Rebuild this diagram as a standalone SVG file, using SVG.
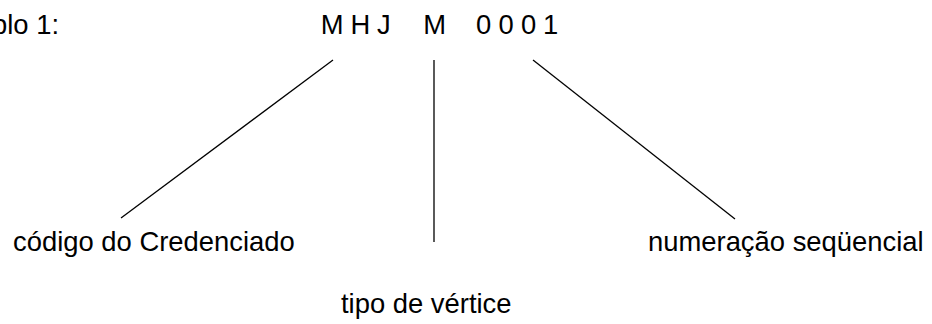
<svg xmlns="http://www.w3.org/2000/svg" width="932" height="324" viewBox="0 0 932 324">
<style>
text{font-family:"Liberation Sans",Arial,sans-serif;font-size:27.4px;fill:#000}
.c{stroke:#000;stroke-width:1.3;fill:none}
</style>
<rect width="932" height="324" fill="#fff"/>
<g id="title"><text x="-8" y="34">plo 1:</text></g>
<g id="code"><text y="34"><tspan x="320.7">M</tspan><tspan x="350.5">H</tspan><tspan x="377">J</tspan><tspan x="423.3">M</tspan><tspan x="476">0</tspan><tspan x="498.5">0</tspan><tspan x="521">0</tspan><tspan x="543">1</tspan></text></g>
<g id="credenciado"><text x="13" y="251">código do Credenciado</text></g>
<g id="vertice"><text x="341" y="313">tipo de vértice</text></g>
<g id="sequencial"><text x="648" y="251">numeração seqüencial</text></g>
<g id="connectors">
<line class="c" x1="333" y1="60" x2="121" y2="218"/>
<line class="c" x1="434" y1="60" x2="434" y2="242"/>
<line class="c" x1="533" y1="60" x2="735" y2="219"/>
</g>
</svg>
